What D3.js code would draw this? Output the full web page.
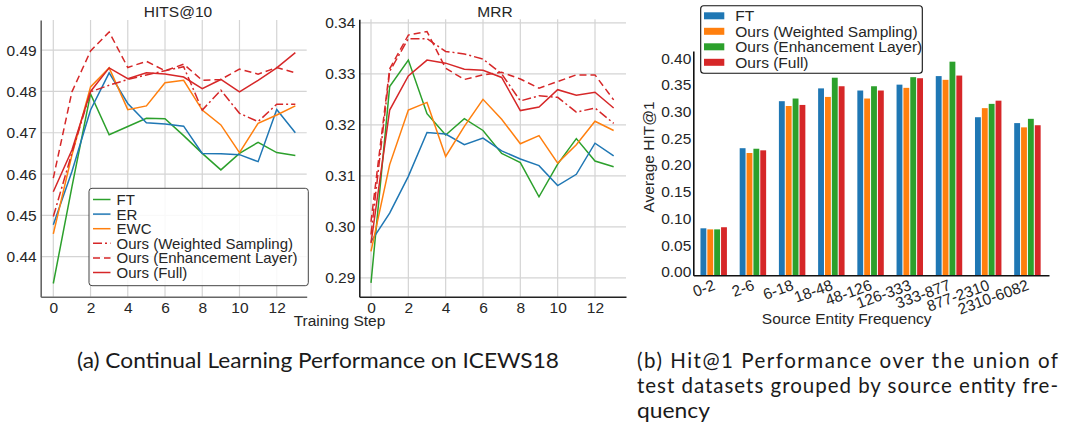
<!DOCTYPE html>
<html lang="en">
<head>
<meta charset="UTF-8">
<title>Continual learning charts</title>
<script src="https://cdnjs.cloudflare.com/ajax/libs/d3/7.8.5/d3.min.js"></script>
<style>
  body { margin: 0; background: #fff; }
  svg text { font-family: "Liberation Sans", Arial, sans-serif; fill: #262626; }
  svg text.cap { font-family: Lato, "Open Sans", sans-serif; fill: #1a1a1a; }
</style>
</head>
<body>
<div id="chart"></div>
<script>
// ---- data ----
var steps = [0, 1, 2, 3, 4, 5, 6, 7, 8, 9, 10, 11, 12, 13];
var stepTicks = [0, 2, 4, 6, 8, 10, 12];

// HITS@10 per training step
var hitsFT   = [0.4335, 0.4569, 0.4794, 0.4695, 0.4715, 0.4735, 0.4734, 0.4693, 0.4650, 0.4610, 0.4650, 0.4677, 0.4652, 0.4645];
var hitsER   = [0.4477, 0.4606, 0.4755, 0.4845, 0.4771, 0.4724, 0.4721, 0.4716, 0.4650, 0.4649, 0.4647, 0.4630, 0.4756, 0.4700];
var hitsEWC  = [0.4455, 0.4646, 0.4811, 0.4857, 0.4756, 0.4765, 0.4821, 0.4827, 0.4755, 0.4719, 0.4652, 0.4723, 0.4743, 0.4765];
var hitsWS   = [0.4497, 0.4651, 0.4799, 0.4815, 0.4829, 0.4840, 0.4850, 0.4860, 0.4755, 0.4803, 0.4747, 0.4727, 0.4769, 0.4769];
var hitsEL   = [0.4590, 0.4799, 0.4898, 0.4944, 0.4858, 0.4873, 0.4850, 0.4866, 0.4827, 0.4829, 0.4854, 0.4842, 0.4858, 0.4845];
var hitsFull = [0.4557, 0.4658, 0.4800, 0.4857, 0.4831, 0.4845, 0.4842, 0.4835, 0.4807, 0.4829, 0.4799, 0.4827, 0.4857, 0.4894];
var hitsTicks = [0.44, 0.45, 0.46, 0.47, 0.48, 0.49];

// MRR per training step
var mrrFT   = [0.2890, 0.3275, 0.3327, 0.3222, 0.3180, 0.3212, 0.3189, 0.3144, 0.3126, 0.3059, 0.3123, 0.3173, 0.3129, 0.3118];
var mrrER   = [0.2971, 0.3027, 0.3099, 0.3185, 0.3182, 0.3161, 0.3174, 0.3149, 0.3133, 0.3120, 0.3081, 0.3103, 0.3164, 0.3139];
var mrrEWC  = [0.2952, 0.3122, 0.3229, 0.3244, 0.3138, 0.3197, 0.3250, 0.3211, 0.3163, 0.3179, 0.3125, 0.3161, 0.3207, 0.3189];
var mrrWS   = [0.2985, 0.3305, 0.3369, 0.3369, 0.3344, 0.3339, 0.3329, 0.3300, 0.3247, 0.3257, 0.3254, 0.3225, 0.3233, 0.3203];
var mrrEL   = [0.3010, 0.3310, 0.3376, 0.3383, 0.3311, 0.3289, 0.3298, 0.3303, 0.3290, 0.3272, 0.3285, 0.3298, 0.3298, 0.3249];
var mrrFull = [0.2968, 0.3229, 0.3296, 0.3327, 0.3321, 0.3309, 0.3307, 0.3293, 0.3228, 0.3235, 0.3269, 0.3258, 0.3264, 0.3233];
var mrrTicks = [0.29, 0.30, 0.31, 0.32, 0.33, 0.34];

var lineNames = ["FT", "ER", "EWC", "Ours (Weighted Sampling)", "Ours (Enhancement Layer)", "Ours (Full)"];

// Hit@1 by source entity frequency
var freqBins = ["0-2", "2-6", "6-18", "18-48", "48-126", "126-333", "333-877", "877-2310", "2310-6082"];
var barFT   = [0.088, 0.238, 0.326, 0.350, 0.346, 0.357, 0.373, 0.296, 0.285];
var barWS   = [0.086, 0.229, 0.317, 0.334, 0.331, 0.351, 0.366, 0.313, 0.277];
var barEL   = [0.086, 0.237, 0.331, 0.370, 0.354, 0.371, 0.400, 0.321, 0.293];
var barFull = [0.090, 0.234, 0.319, 0.354, 0.346, 0.369, 0.374, 0.327, 0.281];
var barNames = ["FT", "Ours (Weighted Sampling)", "Ours (Enhancement Layer)", "Ours (Full)"];
var barTicks = [0, 0.05, 0.10, 0.15, 0.20, 0.25, 0.30, 0.35, 0.40];

var blue = '#1f77b4', orange = '#ff7f0e', green = '#2ca02c', red = '#d62728';
var fontSize = 15.5;

var svg = d3.select('#chart').append('svg')
  .attr('width', 1077)
  .attr('height', 435);

// line series styles, in legend order
var lineStyles = [
  { color: green,  dash: null },
  { color: blue,   dash: null },
  { color: orange, dash: null },
  { color: red,    dash: '9,3,2,3' },
  { color: red,    dash: '7,4' },
  { color: red,    dash: null }
];

function linePanel(p) {
  var x = d3.scaleLinear().domain(p.xDomain).range([p.left, p.right]);
  var y = d3.scaleLinear().domain(p.yDomain).range([p.bottom, p.top]);
  var g = svg.append('g');

  // grid
  g.selectAll('.hg').data(p.yTicks).enter().append('line')
    .attr('x1', p.left).attr('x2', p.right)
    .attr('y1', function(d) { return y(d); }).attr('y2', function(d) { return y(d); })
    .attr('stroke', '#d4d4d4').attr('stroke-width', 1.2);
  g.selectAll('.vg').data(stepTicks).enter().append('line')
    .attr('x1', function(d) { return x(d); }).attr('x2', function(d) { return x(d); })
    .attr('y1', p.top).attr('y2', p.bottom)
    .attr('stroke', '#d4d4d4').attr('stroke-width', 1.2);

  // axes
  var ya = g.append('g').attr('transform', 'translate(' + p.left + ',0)')
    .call(d3.axisLeft(y).tickValues(p.yTicks).tickSize(0).tickPadding(4).tickFormat(d3.format('.2f')));
  var xa = g.append('g').attr('transform', 'translate(0,' + p.bottom + ')')
    .call(d3.axisBottom(x).tickValues(stepTicks).tickSize(0).tickPadding(5));
  [ya, xa].forEach(function(a) {
    a.select('.domain').attr('stroke', p.spine).attr('stroke-width', 1.6);
    a.selectAll('text').attr('font-size', fontSize).attr('fill', '#262626')
      .attr('font-family', '"Liberation Sans", Arial, sans-serif');
  });

  // title
  g.append('text').attr('x', p.titleX).attr('y', 17)
    .attr('text-anchor', 'middle').attr('font-size', fontSize).text(p.title);

  var line = d3.line()
    .x(function(d, i) { return x(steps[i]); })
    .y(function(d) { return y(d); });

  p.series.forEach(function(s, i) {
    g.append('path')
      .attr('d', line(s))
      .attr('fill', 'none')
      .attr('stroke', lineStyles[i].color)
      .attr('stroke-width', 1.5)
      .attr('stroke-dasharray', lineStyles[i].dash);
  });
  return g;
}

var gA = linePanel({
  left: 40.7, right: 306.7, top: 20, bottom: 296.7,
  xDomain: [-0.677, 13.61], yDomain: [0.4303, 0.4973],
  yTicks: hitsTicks, title: 'HITS@10', titleX: 178, spine: '#666',
  series: [hitsFT, hitsER, hitsEWC, hitsWS, hitsEL, hitsFull]
});

linePanel({
  left: 359.3, right: 626, top: 19.3, bottom: 296.7,
  xDomain: [-0.627, 13.661], yDomain: [0.2863, 0.3407],
  yTicks: mrrTicks, title: 'MRR', titleX: 495, spine: '#222',
  series: [mrrFT, mrrER, mrrEWC, mrrWS, mrrEL, mrrFull]
});

svg.append('text').attr('x', 339.5).attr('y', 326)
  .attr('text-anchor', 'middle').attr('font-size', fontSize).text('Training Step');

// legend for line charts
var lg = gA.append('g');
lg.append('rect')
  .attr('x', 89).attr('y', 188.3).attr('width', 219.3).attr('height', 97.4)
  .attr('rx', 3).attr('fill', '#fff').attr('fill-opacity', 0.85)
  .attr('stroke', '#444').attr('stroke-width', 1);
lineNames.forEach(function(n, i) {
  var cy = 199.5 + i * 14.6;
  lg.append('line')
    .attr('x1', 93).attr('x2', 110.5).attr('y1', cy).attr('y2', cy)
    .attr('stroke', lineStyles[i].color).attr('stroke-width', 1.5)
    .attr('stroke-dasharray', lineStyles[i].dash);
  lg.append('text').attr('x', 116.5).attr('y', cy).attr('dy', '0.36em')
    .attr('font-size', 15).text(n);
});

// ---- bar chart ----
var bx = d3.scaleLinear().domain([-0.52, 8.55]).range([693.3, 1049]);
var by = d3.scaleLinear().domain([0, 0.42]).range([275.3, 51]);
var barSeries = [barFT, barWS, barEL, barFull];
var barColors = [blue, orange, green, red];
var slot = 0.175;

var gb = svg.append('g');
barSeries.forEach(function(vals, k) {
  gb.selectAll('.b' + k).data(vals).enter().append('rect')
    .attr('x', function(d, i) { return bx(i + (k - 2) * slot) + 0.5; })
    .attr('width', bx(slot) - bx(0) - 1)
    .attr('y', function(d) { return by(d); })
    .attr('height', function(d) { return by(0) - by(d); })
    .attr('fill', barColors[k]);
});

var bya = gb.append('g').attr('transform', 'translate(693.3,0)')
  .call(d3.axisLeft(by).tickValues(barTicks).tickSize(0).tickPadding(2).tickFormat(d3.format('.2f')));
bya.selectAll('text').attr('transform', 'translate(0,-3.5)');
var bxa = gb.append('g').attr('transform', 'translate(0,275.3)')
  .call(d3.axisBottom(bx).tickValues(d3.range(freqBins.length)).tickSize(0)
    .tickFormat(function(i) { return freqBins[i]; }));
bxa.selectAll('text')
  .attr('text-anchor', 'end')
  .attr('dy', null)
  .attr('y', 0)
  .attr('transform', 'translate(2,14) rotate(-20)');
[bya, bxa].forEach(function(a) {
  a.select('.domain').attr('stroke', '#111').attr('stroke-width', 1.6);
  a.selectAll('text').attr('font-size', fontSize).attr('fill', '#262626')
    .attr('font-family', '"Liberation Sans", Arial, sans-serif');
});

gb.append('text')
  .attr('transform', 'translate(654,157) rotate(-90)')
  .attr('text-anchor', 'middle').attr('font-size', fontSize).text('Average HIT@1');
gb.append('text').attr('x', 846.7).attr('y', 324)
  .attr('text-anchor', 'middle').attr('font-size', fontSize).text('Source Entity Frequency');

// bar legend
gb.append('rect')
  .attr('x', 700.7).attr('y', 5.7).attr('width', 221.6).attr('height', 67.6)
  .attr('rx', 3).attr('fill', '#fff').attr('stroke', '#111').attr('stroke-width', 1.1);
barNames.forEach(function(n, i) {
  var cy = 15.8 + i * 15.5;
  gb.append('rect').attr('x', 704).attr('y', cy - 3.5).attr('width', 20.3).attr('height', 7)
    .attr('fill', barColors[i]);
  gb.append('text').attr('x', 735.3).attr('y', cy).attr('dy', '0.36em')
    .attr('font-size', fontSize).text(n);
});

// ---- captions ----
svg.append('text').attr('class', 'cap')
  .attr('x', 77).attr('y', 368).attr('font-size', 20.5)
  .attr('textLength', 482).attr('lengthAdjust', 'spacingAndGlyphs')
  .text('(a) Continual Learning Performance on ICEWS18');
var capB = [
  { t: '(b) Hit@1 Performance over the union of', w: 421 },
  { t: 'test datasets grouped by source entity fre-', w: 421 },
  { t: 'quency', w: 73 }
];
capB.forEach(function(c, i) {
  svg.append('text').attr('class', 'cap')
    .attr('x', 637).attr('y', 368 + i * 25).attr('font-size', 20.5)
    .attr('textLength', c.w).attr('lengthAdjust', i < 2 ? 'spacing' : 'spacingAndGlyphs')
    .text(c.t);
});
</script>
</body>
</html>
